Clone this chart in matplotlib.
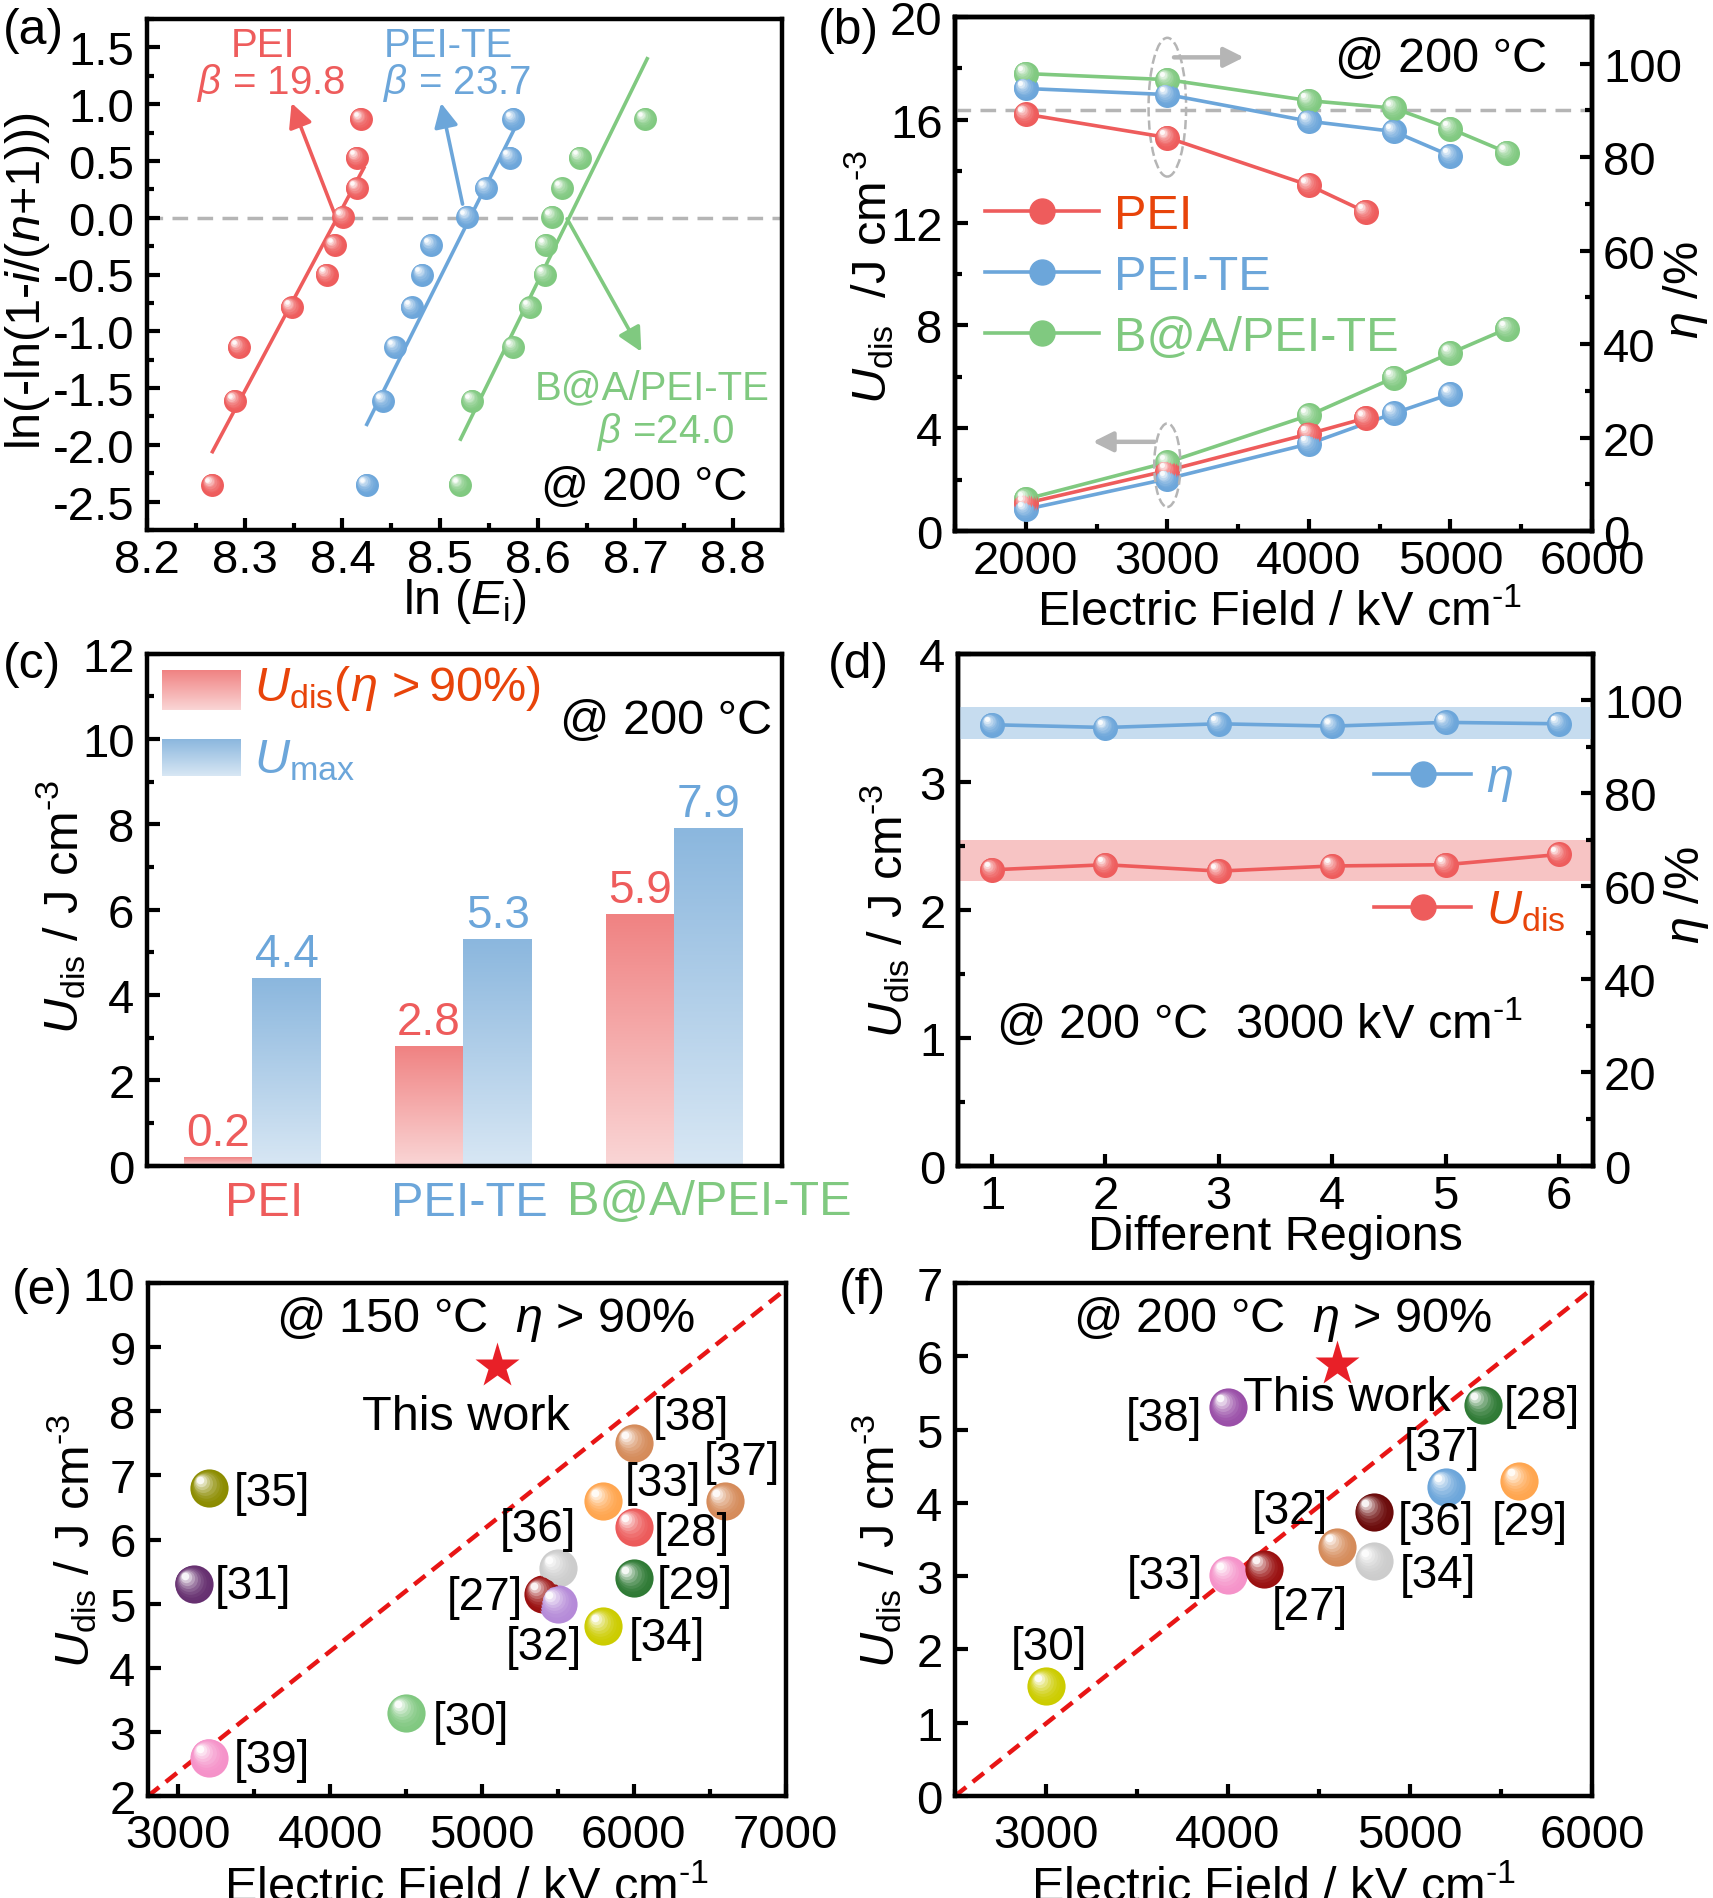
import numpy as np
import matplotlib
matplotlib.use("Agg")
import matplotlib.pyplot as plt
from matplotlib.transforms import ScaledTranslation, blended_transform_factory
from matplotlib.patches import Ellipse
from matplotlib.lines import Line2D
from matplotlib.colors import to_rgb, LinearSegmentedColormap
from matplotlib.ticker import MultipleLocator

plt.rcParams['font.family'] = ['Liberation Sans', 'DejaVu Sans']
plt.rcParams['mathtext.fontset'] = 'custom'
plt.rcParams['mathtext.rm'] = 'Liberation Sans'
plt.rcParams['mathtext.it'] = 'Liberation Sans:italic'
plt.rcParams['mathtext.bf'] = 'Liberation Sans:bold'
plt.rcParams['axes.unicode_minus'] = False

# ===================== DATA =====================
# (a) Weibull plot
weibull_y = [-2.35, -1.61, -1.14, -0.79, -0.50, -0.24, 0.01, 0.26, 0.53, 0.87]
lnE_pei = [8.267, 8.290, 8.294, 8.348, 8.384, 8.392, 8.401, 8.415, 8.415, 8.419]
lnE_peite = [8.425, 8.442, 8.454, 8.471, 8.482, 8.491, 8.528, 8.547, 8.572, 8.575]
lnE_ba = [8.520, 8.533, 8.575, 8.592, 8.607, 8.608, 8.615, 8.625, 8.643, 8.710]
fit_pei_x, fit_pei_y = [8.267, 8.422], [-2.06, 0.44]
fit_peite_x, fit_peite_y = [8.425, 8.580], [-1.82, 0.85]
fit_ba_x, fit_ba_y = [8.521, 8.712], [-1.95, 1.40]
beta_labels = ['19.8', '23.7', '24.0']

# (b) field dependence
field_pei = [2000, 3000, 4000, 4400]
eta_pei = [89.2, 84.2, 74.0, 68.3]
udis_pei = [1.08, 2.35, 3.78, 4.39]
field_peite = [2000, 3000, 4000, 4600, 5000]
eta_peite = [94.7, 93.4, 87.7, 85.5, 80.3]
udis_peite = [0.84, 2.03, 3.39, 4.58, 5.33]
field_ba = [2000, 3000, 4000, 4600, 5000, 5400]
eta_ba = [97.9, 96.6, 92.1, 90.5, 86.1, 81.0]
udis_ba = [1.24, 2.67, 4.50, 5.96, 6.92, 7.87]
eta_threshold = 90

# (c) bars
materials = ['PEI', 'PEI-TE', 'B@A/PEI-TE']
udis_eta90 = [0.2, 2.8, 5.9]
umax = [4.4, 5.3, 7.9]

# (d) different regions
regions = [1, 2, 3, 4, 5, 6]
eta_regions = [94.7, 94.1, 94.9, 94.4, 95.2, 94.9]
udis_regions = [2.31, 2.35, 2.30, 2.34, 2.35, 2.43]
eta_band = [91.6, 98.4]
udis_band = [2.22, 2.54]

# (e) comparison @150 C
refs_e = ['[35]', '[31]', '[39]', '[30]', '[27]', '[36]', '[32]', '[34]', '[33]', '[28]', '[29]', '[38]', '[37]']
field_e = [3200, 3100, 3200, 4500, 5400, 5500, 5500, 5800, 5800, 6000, 6000, 6000, 6600]
udis_e = [6.8, 5.3, 2.6, 3.3, 5.15, 5.55, 5.0, 4.65, 6.6, 6.2, 5.4, 7.5, 6.6]
colors_e = ['#8C8C00', '#663070', '#F592C9', '#80C880', '#9A0F0F', '#CCCCCC', '#B58AD8',
            '#CCCC00', '#FFA64F', '#EC5A5A', '#2F7A35', '#D58B5A', '#D58B5A']
this_work_e = (5100, 8.7)
diag_e_x, diag_e_y = [2800, 7000], [2, 9.9]

# (f) comparison @200 C
refs_f = ['[30]', '[33]', '[27]', '[32]', '[34]', '[36]', '[37]', '[29]', '[28]', '[38]']
field_f = [3000, 4000, 4200, 4600, 4800, 4800, 5200, 5600, 5400, 4000]
udis_f = [1.50, 3.02, 3.10, 3.40, 3.20, 3.88, 4.22, 4.30, 5.34, 5.31]
colors_f = ['#CCCC00', '#F592C9', '#9A1010', '#D58B5A', '#CCCCCC', '#6B0A0A',
            '#6CA6DA', '#FFA64F', '#2F7A35', '#9A4FA8']
this_work_f = (4600, 5.9)
diag_f_x, diag_f_y = [2500, 6000], [0, 6.92]

# ===================== STYLE =====================
RED = '#EE5C5C'
BLUE = '#6CA6DA'
GREEN = '#80C980'
ORED = '#E8440A'
GREY = '#B5B5B5'
TFS = 34
LFS = 35
INV = r'$^{\text{-1}}$'
INV3 = r'$^{\text{-3}}$'

W, H = 1713, 1899
fig = plt.figure(figsize=(W / 100, H / 100), dpi=100)


def ax_at(l, t, w, h):
    return fig.add_axes([l / W, 1 - (t + h) / H, w / W, h / H])


def style(ax):
    for s in ax.spines.values():
        s.set_linewidth(3.2)
    ax.tick_params(which='both', direction='in', width=3, labelsize=TFS)
    ax.tick_params(which='major', length=9)
    ax.tick_params(which='minor', length=5)
    ax.tick_params(axis='y', pad=9)
    ax.tick_params(axis='x', pad=6)


def sphere(ax, x, y, color, ms, z=3, n=8):
    base = np.array(to_rgb(color))
    ax.plot(x, y, ls='none', marker='o', ms=ms, mfc=color, mec='none', zorder=z)
    for k in range(1, n + 1):
        t = k / n
        s = ms * (1 - 0.8 * t)
        shift = (ms - s) / 2 * 0.55
        col = base + (1 - base) * (0.95 * t ** 2.0)
        tr = ax.transData + ScaledTranslation(-shift / 72, shift / 72, fig.dpi_scale_trans)
        ax.plot(x, y, ls='none', marker='o', ms=s, mfc=tuple(col), mec='none',
                zorder=z + 0.001 * k, transform=tr)


def ulabel(sep=' / '):
    return r'$U_{\rm dis}$' + sep + 'J cm' + INV3


# ===================== (a) =====================
axa = ax_at(147, 20, 635, 511)
style(axa)
axa.axhline(0, color=GREY, ls=(0, (4.5, 2.7)), lw=2.5, zorder=1)
for xs, fx, fy, c in [(lnE_pei, fit_pei_x, fit_pei_y, RED),
                      (lnE_peite, fit_peite_x, fit_peite_y, BLUE),
                      (lnE_ba, fit_ba_x, fit_ba_y, GREEN)]:
    axa.plot(fx, fy, color=c, lw=2.6, zorder=2)
    sphere(axa, xs, weibull_y, c, ms=16.5)
arrows_a = [((8.394, -0.01), (8.348, 1.01), RED),
            ((8.523, 0.12), (8.501, 1.01), BLUE),
            ((8.630, -0.01), (8.706, -1.18), GREEN)]
for st, tip, c in arrows_a:
    axa.annotate('', xy=tip, xytext=st,
                 arrowprops=dict(arrowstyle='-|>', color=c, lw=2.6, mutation_scale=36, shrinkA=0, shrinkB=0))
axa.set_xlim(8.2, 8.85)
axa.set_ylim(-2.75, 1.75)
axa.xaxis.set_major_locator(MultipleLocator(0.1))
axa.xaxis.set_minor_locator(MultipleLocator(0.05))
axa.yaxis.set_major_locator(MultipleLocator(0.5))
axa.yaxis.set_minor_locator(MultipleLocator(0.25))
axa.xaxis.set_major_formatter(plt.FuncFormatter(lambda v, p: f'{v:.1f}'))
axa.yaxis.set_major_formatter(plt.FuncFormatter(lambda v, p: f'{v:.1f}'))
axa.text(0.182, 0.949, 'PEI', color=RED, fontsize=29, ha='center', va='center', transform=axa.transAxes)
axa.text(0.195, 0.876, r'$\beta$ = ' + beta_labels[0], color=RED, fontsize=29, ha='center', va='center', transform=axa.transAxes)
axa.text(0.475, 0.949, 'PEI-TE', color=BLUE, fontsize=29, ha='center', va='center', transform=axa.transAxes)
axa.text(0.489, 0.876, r'$\beta$ = ' + beta_labels[1], color=BLUE, fontsize=29, ha='center', va='center', transform=axa.transAxes)
axa.text(0.795, 0.280, 'B@A/PEI-TE', color=GREEN, fontsize=29, ha='center', va='center', transform=axa.transAxes)
axa.text(0.817, 0.193, r'$\beta$ =' + beta_labels[2], color=GREEN, fontsize=29, ha='center', va='center', transform=axa.transAxes)
axa.text(0.783, 0.084, '@ 200 °C', color='black', fontsize=TFS, ha='center', va='center', transform=axa.transAxes)
axa.set_xlabel(r'ln ($E_{\rm i}$)', fontsize=LFS)
axa.set_ylabel(r'ln(-ln(1-$i$/($n$+1)))', fontsize=LFS)
axa.yaxis.set_label_coords(-0.150, 0.49)
axa.xaxis.set_label_coords(0.5, -0.09)

# ===================== (b) =====================
axb = ax_at(955, 18, 637, 514)
axb2 = axb.twinx()
style(axb)
style(axb2)
axb2.axhline(eta_threshold, color=GREY, ls=(0, (4.5, 2.7)), lw=2.5, zorder=1)
for f, e, c in [(field_pei, eta_pei, RED), (field_peite, eta_peite, BLUE), (field_ba, eta_ba, GREEN)]:
    axb2.plot(f, e, color=c, lw=2.6, zorder=2)
    sphere(axb2, f, e, c, ms=18)
for f, u, c in [(field_peite, udis_peite, BLUE), (field_ba, udis_ba, GREEN), (field_pei, udis_pei, RED)]:
    axb.plot(f, u, color=c, lw=2.6, zorder=2)
    sphere(axb, f, u, c, ms=18)
axb.add_patch(Ellipse((3000, 16.49), 265, 5.4, fill=False, ec=GREY, ls='--', lw=1.8, zorder=4))
axb.add_patch(Ellipse((3000, 2.56), 185, 3.25, fill=False, ec=GREY, ls='--', lw=1.8, zorder=4))
axb.annotate('', xy=(3541, 18.43), xytext=(3047, 18.43),
             arrowprops=dict(arrowstyle='-|>', color=GREY, lw=3.2, mutation_scale=30, shrinkA=0, shrinkB=0))
axb.annotate('', xy=(2474, 3.47), xytext=(2909, 3.47),
             arrowprops=dict(arrowstyle='-|>', color=GREY, lw=3.2, mutation_scale=30, shrinkA=0, shrinkB=0))
axb.set_xlim(1500, 6000)
axb.set_ylim(0, 20)
axb2.set_ylim(0, 110)
axb.xaxis.set_major_locator(MultipleLocator(1000))
axb.xaxis.set_minor_locator(MultipleLocator(500))
axb.yaxis.set_major_locator(MultipleLocator(4))
axb.yaxis.set_minor_locator(MultipleLocator(2))
axb2.yaxis.set_major_locator(MultipleLocator(20))
axb2.yaxis.set_minor_locator(MultipleLocator(10))
axb2.tick_params(axis='y', pad=8)
hb = [Line2D([], [], color=c, lw=2.6, marker='o', ms=18) for c in (RED, BLUE, GREEN)]
legb = axb2.legend(hb, materials, loc='center left', bbox_to_anchor=(0.047, 0.495), frameon=False,
                   fontsize=LFS, handlelength=2.35, handletextpad=0.3, labelspacing=0.33,
                   borderpad=0, borderaxespad=0)
for t, c in zip(legb.get_texts(), (ORED, BLUE, GREEN)):
    t.set_color(c)
axb.text(0.763, 0.92, '@ 200 °C', fontsize=LFS, ha='center', va='center', transform=axb.transAxes)
axb.set_xlabel('Electric Field / kV cm' + INV, fontsize=LFS)
axb.set_ylabel(ulabel('  /'), fontsize=LFS)
axb2.set_ylabel(r'$\eta$ /%', fontsize=LFS)
axb.yaxis.set_label_coords(-0.093, 0.496)
axb2.yaxis.set_label_coords(1.108, 0.47)
axb.xaxis.set_label_coords(0.51, -0.115)

# ===================== (c) =====================
axc = ax_at(147, 654.5, 635, 512)
style(axc)
cm_red = LinearSegmentedColormap.from_list('r', ['#FAD6D6', '#F08282'])
cm_blue = LinearSegmentedColormap.from_list('b', ['#D8E7F4', '#8BB7DE'])
grad = np.linspace(0, 1, 256).reshape(-1, 1)
xc = np.arange(len(materials))
bw = 0.326
bars_r = axc.bar(xc - bw / 2, udis_eta90, bw, color='none', ec='none')
bars_b = axc.bar(xc + bw / 2, umax, bw, color='none', ec='none')
for bars, cm, col, vals in [(bars_r, cm_red, RED, udis_eta90), (bars_b, cm_blue, BLUE, umax)]:
    for p, v in zip(bars, vals):
        x0, w, h = p.get_x(), p.get_width(), p.get_height()
        im = axc.imshow(grad, extent=[x0, x0 + w, 0, h], cmap=cm, aspect='auto', origin='lower',
                        zorder=2, interpolation='bicubic')
        im.set_clip_path(p)
        axc.text(x0 + w / 2, h + 0.05, f'{v}', color=col, fontsize=33, ha='center', va='bottom')
# legend patches (axes coords)
axc.imshow(grad, extent=[0.024, 0.148, 0.89, 0.967], transform=axc.transAxes, cmap=cm_red,
           aspect='auto', origin='lower', zorder=3)
axc.imshow(grad, extent=[0.024, 0.148, 0.761, 0.833], transform=axc.transAxes, cmap=cm_blue,
           aspect='auto', origin='lower', zorder=3)
axc.text(0.168, 0.933, r'$U_{\rm dis}$($\eta\,{>}$90%)', color=ORED, fontsize=LFS, ha='left', va='center',
         transform=axc.transAxes)
axc.text(0.168, 0.793, r'$U_{\rm max}$', color=BLUE, fontsize=LFS, ha='left', va='center',
         transform=axc.transAxes)
axc.text(0.818, 0.87, '@ 200 °C', fontsize=LFS, ha='center', va='center', transform=axc.transAxes)
axc.set_xlim(-0.5, 2.51)
axc.set_ylim(0, 12)
axc.set_xticks(xc)
axc.set_xticklabels([])
axc.tick_params(axis='x', length=0)
blend = blended_transform_factory(axc.transData, axc.transAxes)
for xi, name, c, sh in zip(xc, materials, (RED, BLUE, GREEN), (12, 6, 35)):
    axc.text(xi, 0, name, color=c, fontsize=LFS, ha='center', va='top', clip_on=False,
             transform=blend + ScaledTranslation(sh / 100, -14 / 100, fig.dpi_scale_trans))
axc.yaxis.set_major_locator(MultipleLocator(2))
axc.yaxis.set_minor_locator(MultipleLocator(1))
axc.set_ylabel(ulabel(), fontsize=LFS)
axc.yaxis.set_label_coords(-0.093, 0.507)

# ===================== (d) =====================
axd = ax_at(958, 654.5, 635, 512)
axd2 = axd.twinx()
style(axd)
style(axd2)
axd.axhspan(udis_band[0], udis_band[1], color='#F7C4C4', zorder=0, lw=0)
axd2.axhspan(eta_band[0], eta_band[1], color='#C6DCEF', zorder=0, lw=0)
axd.plot(regions, udis_regions, color=RED, lw=2.6, zorder=2)
sphere(axd, regions, udis_regions, RED, ms=18)
axd2.plot(regions, eta_regions, color=BLUE, lw=2.6, zorder=2)
sphere(axd2, regions, eta_regions, BLUE, ms=18)
axd.set_xlim(0.7, 6.3)
axd.set_ylim(0, 4)
axd2.set_ylim(0, 110)
axd.xaxis.set_major_locator(MultipleLocator(1))
axd.yaxis.set_major_locator(MultipleLocator(1))
axd.yaxis.set_minor_locator(MultipleLocator(0.5))
axd2.yaxis.set_major_locator(MultipleLocator(20))
axd2.yaxis.set_minor_locator(MultipleLocator(10))
axd2.tick_params(axis='y', pad=8)
hd = [Line2D([], [], color=BLUE, lw=2.6, marker='o', ms=18), Line2D([], [], color=RED, lw=2.6, marker='o', ms=18)]
legd = axd2.legend(hd, [r'$\eta$', r'$U_{\rm dis}$'], loc='center left', bbox_to_anchor=(0.655, 0.626),
                   frameon=False, fontsize=LFS, handlelength=2.0, handletextpad=0.3, labelspacing=1.75,
                   borderpad=0, borderaxespad=0)
for t, c in zip(legd.get_texts(), (BLUE, ORED)):
    t.set_color(c)
axd.text(0.06, 0.28, '@ 200 °C  3000 kV cm' + INV, fontsize=LFS, ha='left', va='center', transform=axd.transAxes)
axd.set_xlabel('Different Regions', fontsize=LFS)
axd.set_ylabel(ulabel(), fontsize=LFS)
axd2.set_ylabel(r'$\eta$ /%', fontsize=LFS)
axd.yaxis.set_label_coords(-0.072, 0.5)
axd2.yaxis.set_label_coords(1.108, 0.53)
axd.xaxis.set_label_coords(0.5, -0.095)

# ===================== (e) / (f) =====================
offs_e = [(25, -5, 'left'), (21, -2, 'left'), (25, -2, 'left'), (27, -9, 'left'), (-20, -3, 'right'),
          (-20, 39, 'center'), (-14, -43, 'center'), (25, -12, 'left'), (60, 18, 'center'),
          (20, -6, 'left'), (23, -8, 'left'), (19, 26, 'left'), (17, 39, 'center')]
offs_f = [(3, 39, 'center'), (-25, -1, 'right'), (45, -38, 'center'), (-47, 36, 'center'),
          (26, -14, 'left'), (24, -10, 'left'), (-4, 39, 'center'), (11, -41, 'center'),
          (21, -1, 'left'), (-26, -11, 'right')]


def comparison(ax, refs, xs, ys, cols, offs, star, dx, dy, xlim, ylim, xt, yt, title, tw_pos, title_pos):
    style(ax)
    ax.tick_params(axis='x', pad=12)
    ax.plot(dx, dy, color='#E81515', ls=(0, (3.2, 1.9)), lw=3.2, zorder=1)
    for r, x, y, c, (ox, oy, ha) in zip(refs, xs, ys, cols, offs):
        sphere(ax, [x], [y], c, ms=27.5, z=3)
        ax.annotate(r, (x, y), xytext=(ox * 0.72, oy * 0.72), textcoords='offset points',
                    ha=ha, va='center', fontsize=33, zorder=5)
    ax.plot([star[0]], [star[1]], marker='*', ms=34, color='#E82028', mec='none', ls='none', zorder=5)
    ax.text(tw_pos[0], tw_pos[1], 'This work', fontsize=LFS, ha='center', va='center', transform=ax.transAxes)
    ax.text(title_pos[0], title_pos[1], title, fontsize=LFS, ha='center', va='center', transform=ax.transAxes)
    ax.set_xlim(*xlim)
    ax.set_ylim(*ylim)
    ax.xaxis.set_major_locator(MultipleLocator(xt))
    ax.xaxis.set_minor_locator(MultipleLocator(xt / 2))
    ax.yaxis.set_major_locator(MultipleLocator(yt))
    ax.set_xlabel('Electric Field / kV cm' + INV, fontsize=LFS)
    ax.set_ylabel(ulabel(), fontsize=LFS)


axe = ax_at(148, 1284, 637.5, 513)
comparison(axe, refs_e, field_e, udis_e, colors_e, offs_e, this_work_e, diag_e_x, diag_e_y,
           (2800, 7000), (2, 10), 1000, 1, r'@ 150 °C  $\eta$ > 90%', (0.499, 0.739), (0.529, 0.93))
axe.yaxis.set_label_coords(-0.077, 0.5)
axe.xaxis.set_label_coords(0.5, -0.135)

axf = ax_at(955, 1284, 637, 513)
comparison(axf, refs_f, field_f, udis_f, colors_f, offs_f, this_work_f, diag_f_x, diag_f_y,
           (2500, 6000), (0, 7), 1000, 1, r'@ 200 °C  $\eta$ > 90%', (0.615, 0.776), (0.514, 0.93))
axf.yaxis.set_label_coords(-0.080, 0.5)
axf.xaxis.set_label_coords(0.5, -0.135)

# ===================== panel letters =====================
for lab, (px, py) in zip(['(a)', '(b)', '(c)', '(d)', '(e)', '(f)'],
                         [(33, 31), (848, 31), (32, 665), (858, 665), (42, 1291), (862, 1291)]):
    fig.text(px / W, 1 - py / H, lab, fontsize=36, ha='center', va='center')

fig.savefig('out.png', dpi=100)
